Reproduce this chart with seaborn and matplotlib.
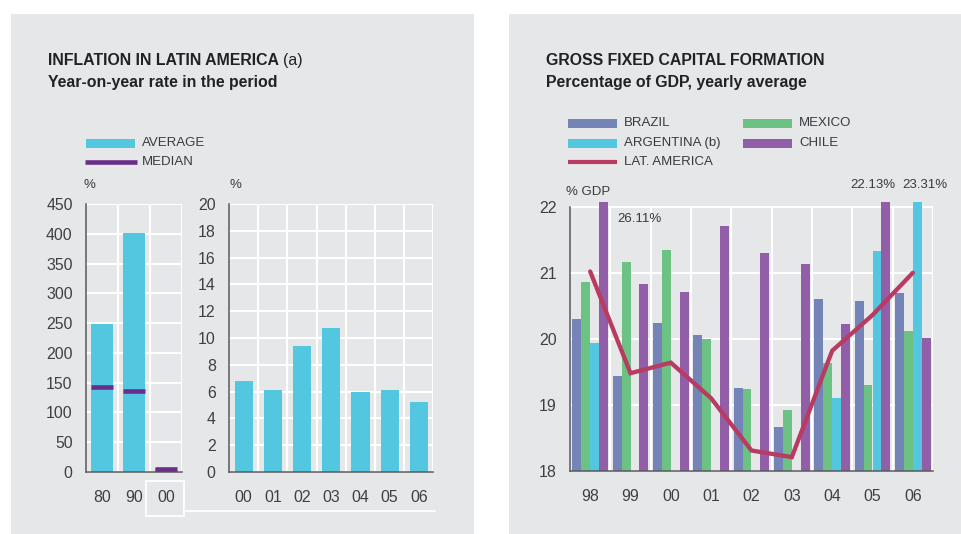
import numpy as np
import pandas as pd
import matplotlib
matplotlib.use("Agg")
import matplotlib.pyplot as plt
import seaborn as sns
from matplotlib.patches import Rectangle
from matplotlib.lines import Line2D

# ---------------- data ----------------
decades = ["80", "90", "00"]
decade_average = [248, 401, 7]
decade_median = [143, 136, 5]

years_short = ["00", "01", "02", "03", "04", "05", "06"]
yearly_average = [6.8, 6.1, 9.4, 10.75, 5.95, 6.1, 5.2]

gfcf_years = ["98", "99", "00", "01", "02", "03", "04", "05", "06"]
countries = ["BRAZIL", "MEXICO", "ARGENTINA (b)", "CHILE"]
brazil = [20.30, 19.44, 20.24, 20.06, 19.26, 18.67, 20.60, 20.57, 20.69]
mexico = [20.86, 21.16, 21.34, 20.00, 19.24, 18.92, 19.63, 19.30, 20.12]
argentina = [19.94, np.nan, np.nan, np.nan, np.nan, np.nan, 19.10, 21.33, 23.31]
chile = [26.11, 20.83, 20.71, 21.71, 21.30, 21.13, 20.22, 22.13, 20.01]
latam = [21.02, 19.48, 19.64, 19.10, 18.31, 18.21, 19.82, 20.36, 21.00]

# ---------------- style ----------------
W, H = 961, 534
PANEL = "#e6e7e8"
SPINE = "#5a5a5a"
TICK = "#404040"
TXT = "#3a3a3a"
CYAN = "#53c6e0"
PURPLE_MED = "#6b2d8c"
C_BRAZIL = "#7484b6"
C_MEXICO = "#6cc283"
C_CHILE = "#925ea8"
C_LATAM = "#b83b62"

sns.set_style("white", {"axes.facecolor": "none"})
plt.rcParams["font.family"] = ["Liberation Sans", "DejaVu Sans"]

fig = plt.figure(figsize=(W / 100, H / 100), dpi=100)
fig.patch.set_facecolor("white")


def fx(x):
    return x / W


def fy(y):
    return 1 - y / H


def rect(x0, y0, x1, y1):
    return [x0 / W, 1 - y1 / H, (x1 - x0) / W, (y1 - y0) / H]


for (x0, y0, x1, y1) in [(11, 14, 474, 534), (509, 14, 961, 534)]:
    fig.add_artist(Rectangle((fx(x0), fy(y1)), (x1 - x0) / W, (y1 - y0) / H,
                             transform=fig.transFigure, facecolor=PANEL,
                             edgecolor="none", zorder=0))


def style(ax, n, ylo, yhi):
    for s in ["top", "right"]:
        ax.spines[s].set_visible(False)
    for s in ["left", "bottom"]:
        ax.spines[s].set_color(SPINE)
        ax.spines[s].set_linewidth(1.1)
        ax.spines[s].set_zorder(3)
    ax.set_xlim(-0.5, n - 0.5)
    ax.set_axisbelow(True)
    ax.yaxis.grid(True, color="white", lw=1.5)
    ax.xaxis.grid(False)
    ax.vlines(np.arange(0.5, n, 1), ylo, yhi, colors="white", lw=1.5, zorder=0.6)
    ax.tick_params(length=0, labelsize=11.4, colors=TICK)
    ax.tick_params(axis="x", pad=13)
    ax.tick_params(axis="y", pad=9.6)
    ax.set_xlabel("")
    ax.set_ylabel("")


# ---------------- chart A: decades ----------------
axA = fig.add_axes(rect(86, 204, 182, 472))
sns.barplot(x=decades, y=decade_average, color=CYAN, saturation=1, width=0.69,
            linewidth=0, ax=axA)
axA.hlines(decade_median, np.arange(len(decades)) - 0.33, np.arange(len(decades)) + 0.33,
           colors=PURPLE_MED, lw=3.3, zorder=4)
axA.set_ylim(0, 450)
axA.set_yticks(np.arange(0, 451, 50))
style(axA, len(decades), 0, 450)

# ---------------- chart B: years 00-06 ----------------
axB = fig.add_axes(rect(229, 204, 433.5, 472))
sns.barplot(x=years_short, y=yearly_average, color=CYAN, saturation=1, width=0.62,
            linewidth=0, ax=axB)
axB.set_ylim(0, 20)
axB.set_yticks(np.arange(0, 21, 2))
style(axB, len(years_short), 0, 20)

# ---------------- chart C: GFCF ----------------
TOP = 22.07
axC = fig.add_axes(rect(570, 206.7 - (TOP - 22) * 66.1, 933, 471))
df = pd.DataFrame({
    "year": np.tile(gfcf_years, len(countries)),
    "country": np.repeat(countries, len(gfcf_years)),
    "value": np.concatenate([brazil, mexico, argentina, chile]),
})
sns.barplot(data=df, x="year", y="value", hue="country", hue_order=countries,
            palette=[C_BRAZIL, C_MEXICO, CYAN, C_CHILE], saturation=1, width=0.88,
            linewidth=0, legend=False, ax=axC)
sns.lineplot(x=gfcf_years, y=latam, color=C_LATAM, lw=3.1, ax=axC, zorder=5,
             solid_joinstyle="miter")
axC.set_ylim(18, TOP)
axC.set_yticks([18, 19, 20, 21, 22])
style(axC, len(gfcf_years), 18, 22)
axC.spines["left"].set_bounds(18, 22)

axC.text(1.22, 21.81, f"{chile[0]:.2f}%", ha="center", va="center", fontsize=9.5, color=TXT)
axC.text(7.0, 22.33, f"{chile[7]:.2f}%", ha="center", va="center", fontsize=9.5, color=TXT)
axC.text(8.29, 22.33, f"{argentina[8]:.2f}%", ha="center", va="center", fontsize=9.5, color=TXT)

# ---------------- axis unit labels ----------------
fig.text(fx(84), fy(185), "%", fontsize=9.5, color=TXT, ha="left", va="center")
fig.text(fx(229), fy(185), "%", fontsize=9.5, color=TXT, ha="left", va="center")
fig.text(fx(566), fy(192), "% GDP", fontsize=9.5, color=TXT, ha="left", va="center")

# ---------------- decorations: 00 box & connector ----------------
fig.add_artist(Rectangle((fx(146), fy(516)), 38 / W, 35 / H, transform=fig.transFigure,
                         facecolor="none", edgecolor="white", lw=1.3, zorder=2))
fig.add_artist(Line2D([fx(186), fx(435)], [fy(511), fy(511)], transform=fig.transFigure,
                      color="white", lw=1.3, zorder=2))

# ---------------- titles ----------------
TS = 11.4
t1 = fig.text(fx(48), fy(61), "INFLATION IN LATIN AMERICA", fontsize=TS, fontweight="bold",
              color="#222222", ha="left", va="center")
fig.text(fx(48), fy(83), "Year-on-year rate in the period", fontsize=TS, fontweight="bold",
         color="#222222", ha="left", va="center")
fig.text(fx(546), fy(61), "GROSS FIXED CAPITAL FORMATION", fontsize=TS, fontweight="bold",
         color="#222222", ha="left", va="center")
fig.text(fx(546), fy(83), "Percentage of GDP, yearly average", fontsize=TS, fontweight="bold",
         color="#222222", ha="left", va="center")
fig.canvas.draw()
bb = t1.get_window_extent()
fig.text(bb.x1 / W + 4 / W, fy(61), "(a)", fontsize=TS, color="#222222", ha="left", va="center")

# ---------------- legends ----------------
def patch(x0, x1, yc, color):
    fig.add_artist(Rectangle((fx(x0), fy(yc + 4.5)), (x1 - x0) / W, 9 / H,
                             transform=fig.transFigure, facecolor=color, edgecolor="none"))


def line(x0, x1, yc, color, lw):
    fig.add_artist(Line2D([fx(x0), fx(x1)], [fy(yc), fy(yc)], transform=fig.transFigure,
                          color=color, lw=lw, solid_capstyle="butt"))


def label(x, yc, s):
    fig.text(fx(x), fy(yc), s, fontsize=9.5, color=TXT, ha="left", va="center")


patch(86, 135, 143.3, CYAN)
label(142, 143.3, "AVERAGE")
line(85, 137, 161.7, PURPLE_MED, 3.3)
label(142, 161.7, "MEDIAN")

patch(568, 617, 123.3, C_BRAZIL)
label(624, 123.3, countries[0])
patch(743, 792, 123.3, C_MEXICO)
label(799, 123.3, countries[1])
patch(568, 617, 143.3, CYAN)
label(624, 143.3, countries[2])
patch(743, 792, 143.3, C_CHILE)
label(799, 143.3, countries[3])
line(568, 617, 161.7, C_LATAM, 3.0)
label(624, 161.7, "LAT. AMERICA")

fig.savefig("out.png", dpi=100, facecolor="white")
